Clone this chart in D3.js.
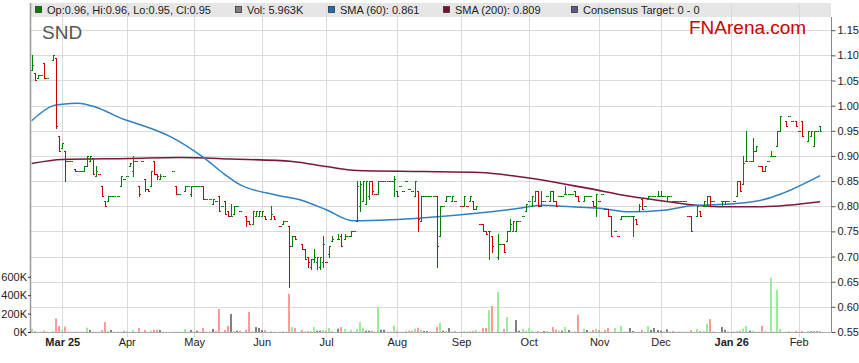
<!DOCTYPE html>
<html>
<head>
<meta charset="utf-8">
<script src="https://cdn.jsdelivr.net/npm/d3@7"></script>
<style>
  body { margin: 0; background: #fff; }
  svg { display: block; font-family: "Liberation Sans", Arial, sans-serif; }
</style>
</head>
<body>
<div id="chart"></div>
<script>
// ---- data (one line per month) ----
const dates = [
  "2025-02-17","2025-02-18","2025-02-19","2025-02-20","2025-02-21","2025-02-24","2025-02-26","2025-02-27","2025-02-28",
  "2025-03-03","2025-03-04","2025-03-05","2025-03-06","2025-03-07","2025-03-10","2025-03-11","2025-03-12","2025-03-13","2025-03-14","2025-03-17","2025-03-18","2025-03-19","2025-03-20","2025-03-21","2025-03-24","2025-03-25","2025-03-26","2025-03-27","2025-03-28","2025-03-31",
  "2025-04-01","2025-04-02","2025-04-03","2025-04-04","2025-04-07","2025-04-08","2025-04-09","2025-04-10","2025-04-11","2025-04-14","2025-04-15","2025-04-16","2025-04-17","2025-04-22","2025-04-23","2025-04-24","2025-04-28","2025-04-29","2025-04-30",
  "2025-05-01","2025-05-02","2025-05-05","2025-05-06","2025-05-07","2025-05-08","2025-05-09","2025-05-12","2025-05-13","2025-05-14","2025-05-15","2025-05-16","2025-05-19","2025-05-20","2025-05-21","2025-05-22","2025-05-26","2025-05-27","2025-05-28","2025-05-29","2025-05-30",
  "2025-06-02","2025-06-03","2025-06-05","2025-06-06","2025-06-10","2025-06-11","2025-06-12","2025-06-13","2025-06-16","2025-06-17","2025-06-19","2025-06-20","2025-06-23","2025-06-24","2025-06-25","2025-06-26","2025-06-27","2025-06-30",
  "2025-07-01","2025-07-02","2025-07-03","2025-07-07","2025-07-08","2025-07-09","2025-07-10","2025-07-11","2025-07-14","2025-07-15","2025-07-16","2025-07-17","2025-07-18","2025-07-21","2025-07-22","2025-07-23","2025-07-24","2025-07-25","2025-07-28","2025-07-29","2025-07-30","2025-07-31",
  "2025-08-01","2025-08-04","2025-08-05","2025-08-06","2025-08-07","2025-08-08","2025-08-11","2025-08-12","2025-08-13","2025-08-14","2025-08-15","2025-08-18","2025-08-19","2025-08-20","2025-08-21","2025-08-22","2025-08-25","2025-08-26","2025-08-27","2025-08-28",
  "2025-09-01","2025-09-02","2025-09-03","2025-09-04","2025-09-05","2025-09-08","2025-09-09","2025-09-10","2025-09-11","2025-09-12","2025-09-15","2025-09-17","2025-09-18","2025-09-19","2025-09-22","2025-09-23","2025-09-24","2025-09-25","2025-09-26","2025-09-29","2025-09-30",
  "2025-10-01","2025-10-02","2025-10-03","2025-10-06","2025-10-07","2025-10-08","2025-10-09","2025-10-10","2025-10-13","2025-10-14","2025-10-15","2025-10-16","2025-10-17","2025-10-20","2025-10-21","2025-10-22","2025-10-23","2025-10-27","2025-10-28","2025-10-29","2025-10-30","2025-10-31",
  "2025-11-03","2025-11-04","2025-11-05","2025-11-06","2025-11-07","2025-11-10","2025-11-11","2025-11-12","2025-11-13","2025-11-14","2025-11-17","2025-11-18","2025-11-19","2025-11-20","2025-11-21","2025-11-24","2025-11-25","2025-11-26","2025-11-27","2025-11-28",
  "2025-12-01","2025-12-02","2025-12-03","2025-12-04","2025-12-05","2025-12-08","2025-12-09","2025-12-10","2025-12-11","2025-12-12","2025-12-15","2025-12-17","2025-12-18","2025-12-19","2025-12-22","2025-12-23","2025-12-24","2025-12-29","2025-12-30","2025-12-31",
  "2026-01-02","2026-01-05","2026-01-06","2026-01-07","2026-01-08","2026-01-09","2026-01-12","2026-01-13","2026-01-14","2026-01-15","2026-01-16","2026-01-19","2026-01-20","2026-01-21","2026-01-22","2026-01-23","2026-01-27","2026-01-28","2026-01-29","2026-01-30",
  "2026-02-02","2026-02-03","2026-02-05","2026-02-06","2026-02-09","2026-02-10","2026-02-11"
];
const opens = [
  1.07,1.065,1.055,1.06,1.085,1.055,1.09,1.095,0.94,
  .915,.91,.89,.89,.875,.87,.87,.87,.88,.89,.895,.86,.865,.84,.81,.81,.82,.82,.82,.84,.855,
  .86,.88,.87,.89,.84,.89,.855,.835,.84,.89,.865,.855,.86,.87,.84,.825,.83,.84,.825,
  .84,.84,.84,.84,.815,.815,.805,.81,.82,.80,.81,.79,.78,.785,.80,.79,.78,.77,.765,.78,.78,
  .78,.78,.775,.78,.76,.765,.77,.76,.72,.74,.725,.715,.70,.68,.695,.69,.68,.69,
  .69,.705,.73,.735,.74,.735,.74,.74,.75,.77,.80,.81,.805,.82,.85,.825,.825,.85,.85,.85,.85,.85,
  .83,.84,.83,.85,.835,.83,.82,.83,.77,.82,.82,.82,.82,.82,.74,.80,.81,.82,.81,.81,
  .80,.80,.80,.81,.81,.795,.765,.765,.75,.75,.74,.70,.725,.725,.73,.75,.75,.75,.77,.78,.79,
  .81,.80,.81,.83,.80,.81,.82,.81,.83,.81,.82,.82,.825,.825,.825,.83,.82,.81,.82,.82,.81,.80,
  .81,.825,.795,.795,.78,.75,.74,.775,.78,.78,.78,.78,.775,.79,.815,.80,.815,.82,.82,.82,
  .82,.82,.81,.82,.81,.81,.81,.81,.81,.78,.78,.78,.79,.80,.80,.82,.81,.81,.81,.81,
  .81,.82,.85,.845,.89,.89,.89,.91,.88,.88,.87,.89,.90,.90,.92,.95,.97,.98,.97,.97,
  .95,.97,.93,.94,.92,.95,.96
];
const highs = [
  1.10,1.065,1.06,1.06,1.085,1.055,1.10,1.095,0.94,
  .925,.91,.89,.89,.875,.87,.87,.88,.90,.90,.895,.88,.865,.84,.81,.82,.82,.82,.82,.86,.855,
  .86,.885,.90,.89,.84,.89,.855,.835,.87,.89,.865,.865,.86,.87,.84,.825,.84,.84,.84,
  .84,.84,.84,.84,.815,.815,.815,.81,.82,.80,.81,.79,.805,.80,.80,.79,.78,.77,.79,.79,.79,
  .79,.78,.80,.78,.76,.77,.77,.76,.74,.74,.725,.715,.70,.695,.715,.70,.70,.74,
  .69,.72,.74,.745,.745,.745,.74,.75,.75,.85,.85,.85,.85,.85,.85,.825,.85,.85,.85,.85,.85,.86,
  .83,.84,.83,.85,.835,.83,.85,.83,.82,.82,.82,.82,.82,.82,.80,.80,.82,.82,.82,.81,
  .80,.82,.80,.82,.81,.80,.765,.765,.75,.75,.74,.745,.725,.725,.75,.775,.77,.77,.77,.78,.805,
  .81,.82,.83,.83,.83,.81,.82,.83,.83,.81,.82,.82,.84,.825,.825,.83,.82,.82,.82,.82,.81,.825,
  .81,.825,.795,.795,.78,.75,.74,.78,.78,.78,.78,.78,.775,.805,.815,.80,.82,.82,.82,.83,
  .83,.82,.82,.82,.81,.81,.81,.81,.81,.78,.78,.80,.79,.81,.82,.82,.81,.81,.81,.81,
  .81,.85,.85,.90,.95,.89,.935,.92,.88,.88,.88,.89,.91,.90,.95,.98,.97,.98,.97,.97,
  .95,.97,.95,.95,.95,.95,.96
];
const lows = [
  1.07,1.05,1.055,1.06,1.055,1.055,1.09,0.955,0.91,
  .915,.85,.89,.89,.87,.87,.87,.87,.88,.89,.865,.86,.865,.82,.80,.81,.82,.82,.82,.84,.855,
  .86,.88,.86,.89,.82,.89,.83,.83,.84,.865,.855,.855,.86,.87,.825,.825,.83,.84,.82,
  .84,.84,.84,.815,.815,.815,.805,.81,.79,.80,.785,.78,.78,.785,.80,.79,.76,.765,.765,.78,.78,
  .78,.775,.775,.775,.76,.765,.77,.64,.72,.735,.715,.695,.68,.675,.69,.675,.675,.68,
  .69,.70,.73,.735,.72,.735,.74,.74,.75,.77,.79,.81,.805,.815,.825,.825,.825,.85,.85,.85,.85,.82,
  .82,.84,.83,.85,.835,.83,.82,.75,.77,.82,.82,.82,.82,.68,.74,.80,.81,.82,.81,.81,
  .80,.80,.80,.81,.795,.795,.765,.75,.745,.695,.71,.695,.725,.71,.73,.75,.75,.75,.77,.78,.79,
  .81,.80,.81,.80,.80,.81,.82,.81,.81,.80,.82,.82,.825,.825,.825,.82,.81,.81,.82,.82,.80,.78,
  .81,.825,.795,.78,.74,.75,.74,.775,.78,.78,.78,.74,.765,.79,.795,.80,.815,.82,.82,.82,
  .82,.82,.81,.82,.81,.81,.81,.81,.81,.78,.75,.78,.78,.80,.80,.80,.81,.80,.805,.81,
  .81,.82,.83,.845,.89,.89,.89,.91,.88,.87,.87,.89,.90,.90,.92,.95,.96,.98,.97,.96,
  .95,.94,.93,.94,.92,.95,.95
];
const closes = [
  1.08,1.05,1.06,1.06,1.055,1.055,1.10,0.96,0.91,
  .925,.89,.89,.89,.87,.87,.87,.88,.90,.90,.865,.87,.865,.82,.80,.82,.82,.82,.82,.86,.855,
  .86,.885,.89,.89,.825,.89,.835,.83,.87,.865,.86,.86,.86,.87,.825,.825,.84,.84,.84,
  .84,.84,.84,.815,.815,.815,.815,.81,.79,.80,.785,.78,.78,.80,.80,.79,.77,.765,.79,.79,.79,
  .79,.775,.785,.775,.76,.77,.77,.72,.74,.735,.715,.695,.69,.695,.70,.70,.70,.725,
  .69,.72,.735,.735,.72,.74,.74,.75,.75,.84,.845,.85,.85,.85,.83,.825,.85,.85,.85,.85,.85,.855,
  .82,.84,.83,.85,.835,.83,.85,.775,.82,.82,.82,.82,.82,.72,.80,.80,.82,.82,.82,.81,
  .80,.82,.80,.82,.795,.80,.765,.75,.745,.75,.72,.725,.725,.71,.75,.765,.77,.77,.77,.78,.805,
  .81,.82,.83,.80,.81,.81,.82,.83,.81,.80,.82,.82,.825,.825,.825,.82,.81,.82,.82,.82,.80,.825,
  .81,.825,.795,.78,.74,.75,.74,.78,.78,.78,.78,.78,.765,.80,.795,.80,.82,.82,.82,.82,
  .82,.82,.82,.82,.81,.81,.81,.81,.81,.78,.75,.80,.78,.81,.82,.81,.81,.81,.81,.81,
  .81,.85,.83,.885,.89,.89,.91,.92,.88,.87,.88,.89,.90,.90,.95,.98,.96,.98,.97,.96,
  .95,.94,.95,.95,.95,.95,.95
];
// volume in thousands of shares
const volumes = [
  33,11,2,2,14,2,11,148,65,
  22,58,3,2,3,2,2,4,47,22,5,4,3,22,108,11,22,2,2,4,14,
  11,3,22,2,43,3,22,2,14,25,25,22,2,3,3,2,33,2,22,
  2,14,2,43,2,2,33,14,250,3,22,65,195,14,14,14,25,217,11,54,43,
  22,22,11,3,3,11,2,416,54,43,22,5,11,11,54,14,14,22,
  14,43,14,36,54,33,2,25,2,33,108,47,14,14,14,2,272,25,25,2,2,69,
  14,3,3,14,14,14,36,47,22,11,11,2,2,54,101,14,11,43,3,11,
  3,11,3,11,11,22,3,43,43,239,282,434,2,33,163,3,3,130,14,33,14,
  43,14,3,11,3,11,11,3,54,25,14,14,54,22,2,3,188,33,22,2,22,36,
  22,3,22,43,3,43,3,65,2,2,43,11,3,3,22,3,65,22,43,22,
  14,3,29,2,11,2,2,2,2,3,22,33,11,11,90,141,3,54,25,3,
  3,11,14,36,65,14,14,3,3,65,11,3,590,3,456,33,3,11,3,11,
  3,11,11,8,8,8,5.963
];

const sma60Dates = ["2025-02-17","2025-02-26","2025-03-03","2025-03-10","2025-03-18","2025-03-31","2025-04-04","2025-04-22","2025-05-06","2025-05-15","2025-05-21","2025-06-09","2025-06-19","2025-07-01","2025-07-14","2025-07-30","2025-08-14","2025-09-08","2025-09-26","2025-10-07","2025-10-21","2025-11-03","2025-11-17","2025-12-02","2025-12-15","2026-01-02","2026-01-16","2026-01-23","2026-02-11"];
const sma60Values = [0.970,1.000,1.003,1.005,0.997,0.973,0.965,0.936,0.897,0.863,0.846,0.822,0.812,0.793,0.771,0.773,0.777,0.786,0.796,0.802,0.799,0.796,0.789,0.792,0.801,0.805,0.814,0.824,0.861];
const sma200Dates = ["2025-02-17","2025-03-03","2025-04-02","2025-04-24","2025-05-19","2025-06-16","2025-07-01","2025-07-15","2025-08-14","2025-09-09","2025-10-01","2025-10-28","2025-11-17","2025-11-28","2025-12-15","2025-12-30","2026-01-14","2026-02-11"];
const sma200Values = [0.885,0.893,0.895,0.897,0.894,0.889,0.879,0.871,0.869,0.867,0.856,0.836,0.820,0.812,0.803,0.799,0.799,0.809];

const priceTicks = [0.55,0.60,0.65,0.70,0.75,0.80,0.85,0.90,0.95,1.00,1.05,1.10,1.15];
const volumeTicks = [0,200,400,600];
const monthLabels = ["Mar 25","Apr","May","Jun","Jul","Aug","Sep","Oct","Nov","Dec","Jan 26","Feb"];
const boldLabels = ["Mar 25","Jan 26"];

// ---- layout ----
const width = 859, height = 363;
const plotLeft = 31, plotRight = 831, plotTop = 3, plotBottom = 332;

const svg = d3.select("#chart").append("svg")
  .attr("width", width)
  .attr("height", height);

// x runs over weekdays (no weekend gaps)
const parse = d3.timeParse("%Y-%m-%d");
const fmt = d3.timeFormat("%Y-%m-%d");
const allDays = d3.timeDay.range(parse("2025-02-17"), parse("2026-02-17"))
  .filter(d => d.getDay() !== 0 && d.getDay() !== 6);
const dayIndex = new Map(allDays.map((d, i) => [fmt(d), i]));

const x = d3.scaleLinear().domain([-0.2, allDays.length - 0.45]).range([plotLeft, plotRight]);
const y = d3.scaleLinear().domain([0.55, 1.15]).range([plotBottom, 30.2]);
const yVol = d3.scaleLinear().domain([0, 3270]).range([plotBottom, 31]);

// first weekday of every month after the first
const monthStarts = [];
allDays.forEach((d, i) => {
  if (i > 0 && d.getMonth() !== allDays[i - 1].getMonth()) monthStarts.push(i);
});

const rows = dates.map((d, i) => {
  const prev = i === 0 ? opens[0] : closes[i - 1];
  return {
    k: dayIndex.get(d), o: opens[i], h: highs[i], l: lows[i], c: closes[i], v: volumes[i],
    dir: Math.sign(Math.round((closes[i] - prev) * 10000))
  };
});

// header band
svg.append("rect")
  .attr("x", plotLeft).attr("y", plotTop)
  .attr("width", plotRight - plotLeft).attr("height", 14)
  .attr("fill", "#e6e6e6");

// grid
svg.append("g")
  .selectAll("line")
  .data(priceTicks.slice(1))
  .join("line")
  .attr("x1", plotLeft).attr("x2", plotRight)
  .attr("y1", d => Math.round(y(d)) + 0.5).attr("y2", d => Math.round(y(d)) + 0.5)
  .attr("stroke", "#dadada");

svg.append("g")
  .selectAll("line")
  .data(monthStarts)
  .join("line")
  .attr("x1", d => Math.round(x(d)) + 0.5).attr("x2", d => Math.round(x(d)) + 0.5)
  .attr("y1", plotTop).attr("y2", plotBottom + 5)
  .attr("stroke", "#dadada");

// volume bars
const volColor = d => d.dir > 0 ? "#98ee98" : d.dir < 0 ? "#ff9a9a" : "#808080";
svg.append("g")
  .selectAll("rect")
  .data(rows)
  .join("rect")
  .attr("x", d => Math.round(x(d.k)) - 1)
  .attr("y", d => yVol(d.v))
  .attr("width", 2)
  .attr("height", d => plotBottom - yVol(d.v))
  .attr("fill", volColor);

// moving averages
const smaLine = d3.line()
  .x(d => x(dayIndex.get(d[0])))
  .y(d => y(d[1]))
  .curve(d3.curveMonotoneX);

svg.append("path")
  .datum(d3.zip(sma200Dates, sma200Values))
  .attr("d", smaLine)
  .attr("fill", "none")
  .attr("stroke", "#7c1838")
  .attr("stroke-width", 1.6);

svg.append("path")
  .datum(d3.zip(sma60Dates, sma60Values))
  .attr("d", smaLine)
  .attr("fill", "none")
  .attr("stroke", "#2f80c0")
  .attr("stroke-width", 1.5);

// OHLC bars
const py = v => Math.round(y(v)) + 0.5;
svg.append("g")
  .selectAll("path")
  .data(rows)
  .join("path")
  .attr("d", d => {
    const px = Math.round(x(d.k)) + 0.5;
    let p = "";
    if (d.h !== d.l) p += `M${px},${Math.round(y(d.h))}V${Math.round(y(d.l)) + 1}`;
    p += `M${px - 1.5},${py(d.o)}H${px}`;
    p += `M${px},${py(d.c)}H${px + 1.5}`;
    return p;
  })
  .attr("fill", "none")
  .attr("stroke", d => d.dir < 0 ? "#cc0000" : "#008000")
  .attr("stroke-width", 1);

// frame
svg.append("line")
  .attr("x1", plotLeft - 0.5).attr("x2", plotLeft - 0.5)
  .attr("y1", plotTop).attr("y2", plotBottom)
  .attr("stroke", "#999").attr("stroke-width", 1.5);
svg.append("line")
  .attr("x1", plotLeft).attr("x2", plotRight)
  .attr("y1", plotBottom + 0.5).attr("y2", plotBottom + 0.5)
  .attr("stroke", "#aaa");

// price axis on the right
const yAxis = svg.append("g")
  .attr("transform", `translate(${plotRight + 0.5},0)`)
  .call(d3.axisRight(y).tickValues(priceTicks).tickSize(4).tickSizeOuter(0).tickPadding(2)
    .tickFormat(d3.format(".2f")));
yAxis.select(".domain").attr("stroke", "#888").attr("d", `M0,${plotTop + 14}V${plotBottom}`);
yAxis.selectAll(".tick line").attr("stroke", "#555");
yAxis.selectAll("text").attr("font-size", 11).attr("fill", "#222")
  .attr("font-family", "Liberation Sans, Arial, sans-serif");

// volume axis on the left
const vAxis = svg.append("g")
  .attr("transform", `translate(${plotLeft},0)`)
  .call(d3.axisLeft(yVol).tickValues(volumeTicks).tickSize(3).tickPadding(1)
    .tickFormat(d => d + "K"));
vAxis.select(".domain").remove();
vAxis.selectAll(".tick line").attr("stroke", "#333");
vAxis.selectAll("text").attr("font-size", 11).attr("fill", "#222")
  .attr("font-family", "Liberation Sans, Arial, sans-serif");

// month axis
const xAxis = svg.append("g")
  .attr("transform", `translate(0,${plotBottom})`)
  .call(d3.axisBottom(x).tickValues(monthStarts).tickSize(0).tickPadding(6)
    .tickFormat((d, i) => monthLabels[i]));
xAxis.select(".domain").remove();
xAxis.selectAll("text")
  .attr("font-size", 11).attr("fill", "#222")
  .attr("font-family", "Liberation Sans, Arial, sans-serif")
  .attr("font-weight", (d, i) => boldLabels.includes(monthLabels[i]) ? "bold" : "normal");

// legend in the header band
const last = rows[rows.length - 1];
const f2 = d3.format(".2f"), f3 = d3.format(".3f");
const legend = [
  { x: 35, color: "#008000", text: `Op:${f2(last.o)}, Hi:${f2(last.h)}, Lo:${f2(last.l)}, Cl:${f2(last.c)}` },
  { x: 235, color: "#808080", text: `Vol: ${f3(last.v)}K` },
  { x: 328, color: "#1f6fb0", text: `SMA (60): ${f3(sma60Values[sma60Values.length - 1])}` },
  { x: 443, color: "#7c1030", text: `SMA (200): ${f3(sma200Values[sma200Values.length - 1])}` },
  { x: 571, color: "#5c5c8c", text: "Consensus Target: 0 - 0" }
];
const lg = svg.append("g").selectAll("g").data(legend).join("g");
lg.append("rect")
  .attr("x", d => d.x + 0.5).attr("y", 6.5)
  .attr("width", 6).attr("height", 6)
  .attr("fill", d => d.color)
  .attr("stroke", "#333").attr("stroke-width", 0.8);
lg.append("text")
  .attr("x", d => d.x + 12).attr("y", 14)
  .attr("font-size", 11).attr("fill", "#222")
  .text(d => d.text);

// titles
svg.append("text")
  .attr("x", 42).attr("y", 39)
  .attr("font-size", 19).attr("fill", "#555")
  .text("SND");
svg.append("text")
  .attr("x", 689).attr("y", 33.5)
  .attr("font-size", 19).attr("fill", "#cc0000")
  .text("FNArena.com");
</script>
</body>
</html>
